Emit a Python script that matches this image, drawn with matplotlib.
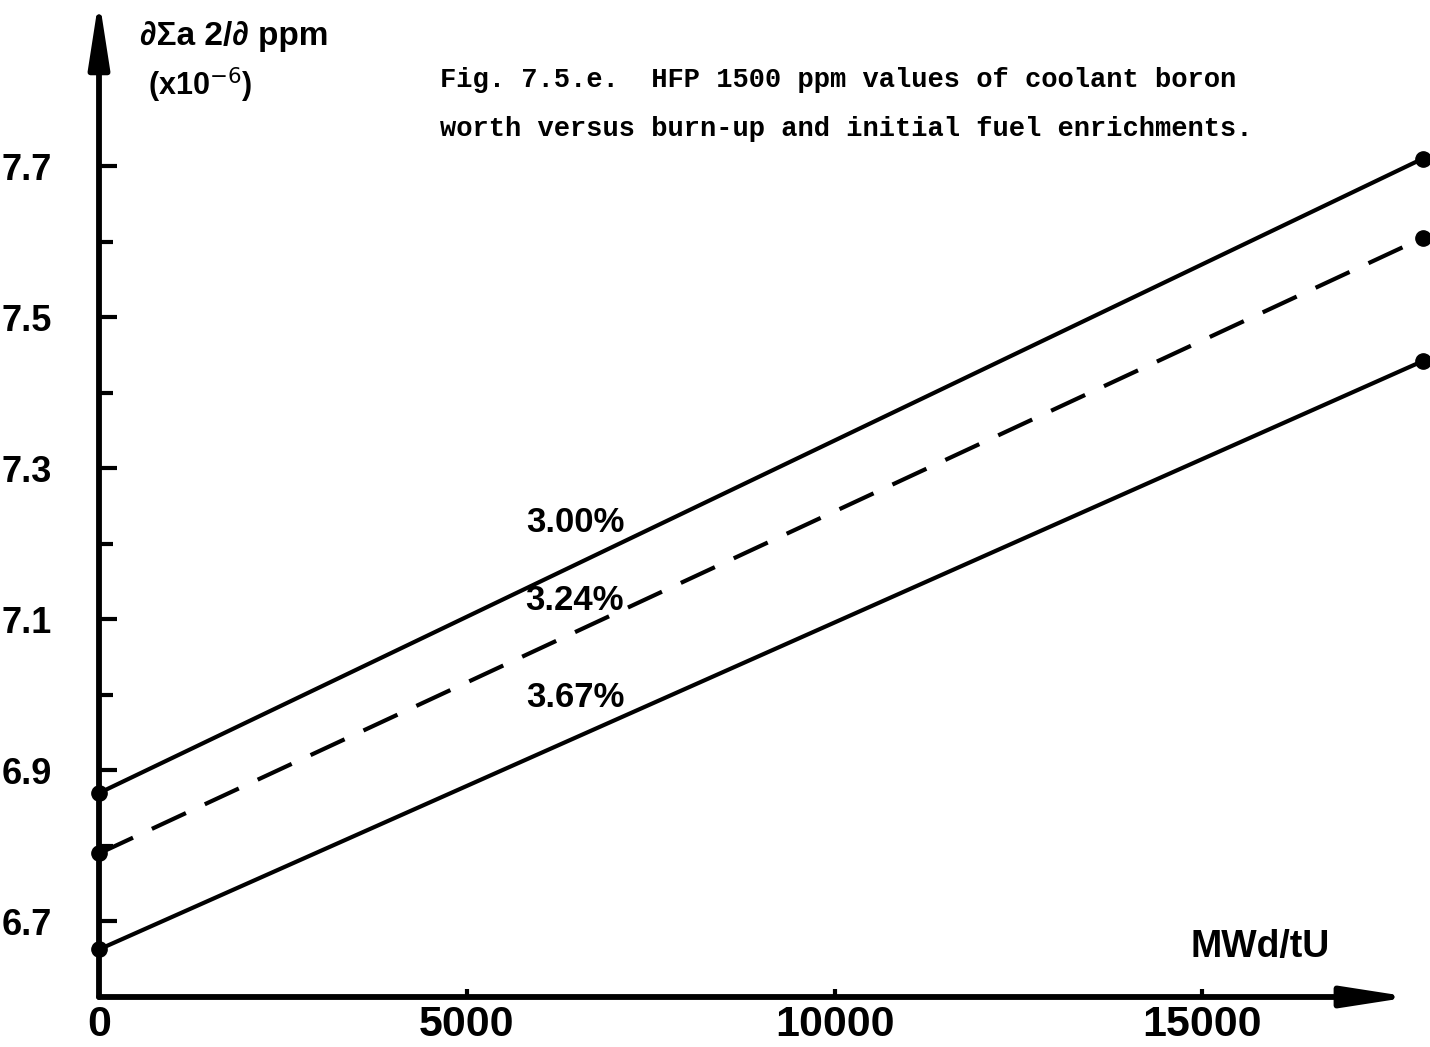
"""Coolant boron worth versus burn-up for three initial fuel enrichments."""
import matplotlib
matplotlib.use('Agg')
import matplotlib.pyplot as plt
from matplotlib.ticker import FixedLocator

# burn-up (MWd/tU) and boron worth (x1e-6 per ppm) at both ends of each line
burnup = [0, 18000]
worth_300 = [6.870, 7.710]
worth_324 = [6.790, 7.605]
worth_367 = [6.663, 7.442]
enrichment_labels = ['3.00%', '3.24%', '3.67%']
label_burnup = [6470, 6470, 6470]
label_worth = [7.228, 7.125, 6.997]

y_major = [6.7, 6.9, 7.1, 7.3, 7.5, 7.7]
y_minor = [6.8, 7.0, 7.2, 7.4, 7.6]
x_major = [0, 5000, 10000, 15000]

HEAVY = ['Liberation Sans', 'DejaVu Sans']
TYPE = ['Liberation Mono', 'DejaVu Sans Mono']

fig = plt.figure(figsize=(14.3, 10.47), dpi=100)
ax = fig.add_axes([99 / 1430, 50 / 1047, 1324 / 1430, 982 / 1047])
ax.set_xlim(0, 18000)
ax.set_ylim(6.6, 7.9)
for side in ax.spines.values():
    side.set_visible(False)

# axes drawn as arrows
arrow = dict(arrowstyle='-|>,head_length=1.8,head_width=0.28', lw=4.2,
             color='black', shrinkA=0, shrinkB=0, mutation_scale=22)
ax.annotate('', xy=(17830, 6.6), xytext=(0, 6.6), arrowprops=arrow,
            annotation_clip=False)
ax.annotate('', xy=(0, 7.922), xytext=(0, 6.6), arrowprops=arrow,
            annotation_clip=False)

ax.yaxis.set_major_locator(FixedLocator(y_major))
ax.yaxis.set_minor_locator(FixedLocator(y_minor))
ax.xaxis.set_major_locator(FixedLocator(x_major))
ax.tick_params(axis='y', which='major', direction='in', length=13, width=3,
               pad=34)
ax.tick_params(axis='y', which='minor', direction='in', length=10, width=3)
ax.tick_params(axis='x', which='major', direction='in', length=6, width=3,
               pad=6)
ax.set_yticklabels([f'{v:.1f}' for v in y_major])
ax.set_xticklabels([str(v) for v in x_major])
for lab in ax.get_yticklabels():
    lab.set_family(HEAVY)
    lab.set_fontweight('bold')
    lab.set_fontsize(26)
for lab in ax.get_xticklabels():
    lab.set_family(HEAVY)
    lab.set_fontweight('bold')
    lab.set_fontsize(31)

line_kw = dict(color='black', lw=3, marker='o', markersize=11,
               clip_on=False, solid_capstyle='round')
ax.plot(burnup, worth_300, **line_kw)
ax.plot(burnup, worth_324, dashes=(9, 5), **line_kw)
ax.plot(burnup, worth_367, **line_kw)

for text, xv, yv in zip(enrichment_labels, label_burnup, label_worth):
    ax.text(xv, yv, text, ha='center', va='center', family=HEAVY,
            fontweight='bold', fontsize=25)

fig.text(140 / 1430, 1 - 37 / 1047, '∂Σa 2/∂ ppm', family=HEAVY,
         fontweight='bold', fontsize=24, va='center', ha='left')
fig.text(148 / 1430, 1 - 85 / 1047, '(x10$^{-6}$)', family=HEAVY,
         fontweight='bold', fontsize=22, va='center', ha='left')
fig.text(1260 / 1430, 1 - 947 / 1047, 'MWd/tU', family=HEAVY,
         fontweight='bold', fontsize=27, va='center', ha='center')

fig.text(440 / 1430, 1 - 80 / 1047,
         'Fig. 7.5.e.  HFP 1500 ppm values of coolant boron',
         family=TYPE, fontweight='bold', fontsize=19.5, va='center')
fig.text(440 / 1430, 1 - 129 / 1047,
         'worth versus burn-up and initial fuel enrichments.',
         family=TYPE, fontweight='bold', fontsize=19.5, va='center')

fig.savefig('out.png', dpi=100)
